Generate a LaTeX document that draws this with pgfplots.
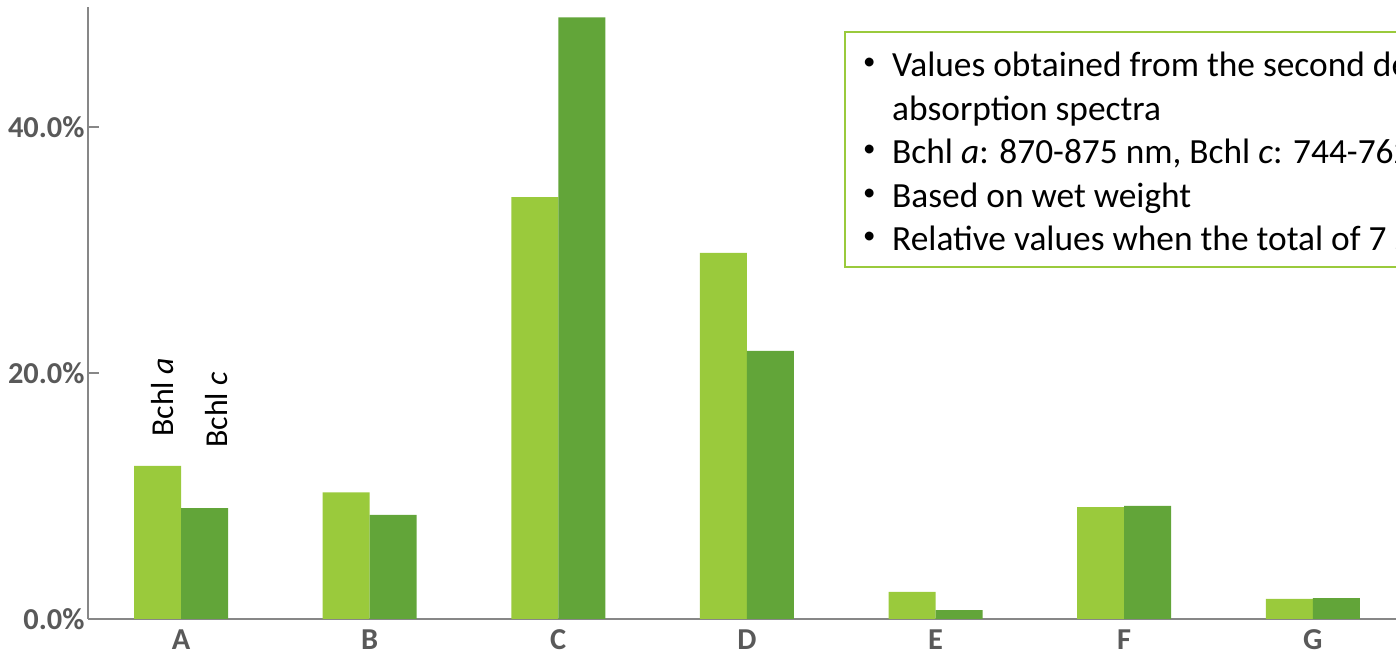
\documentclass[border=0pt]{standalone}
\usepackage{fontspec}
\setmainfont{Carlito}
\usepackage{pgfplots}
\pgfplotsset{compat=1.18}
\definecolor{lgreen}{HTML}{9ACA3C}
\definecolor{dgreen}{HTML}{62A539}
\definecolor{axgray}{HTML}{878787}
\definecolor{lblgray}{HTML}{595959}
\begin{document}
\begin{tikzpicture}[x=1bp,y=1bp]
\useasboundingbox (0,0) rectangle (1396,655);
\begin{axis}[
  at={(88bp,36bp)}, anchor=south west,
  scale only axis,
  width=1338bp, height=612bp,
  xmin=-0.493, xmax=6.6,
  ymin=0, ymax=49.75,
  axis x line=bottom, axis y line=left,
  axis line style={-, draw=axgray, line width=1.2bp},
  ybar=0pt, bar width=47bp,
  xtick={0,1,2,3,4,5,6},
  xticklabels={A,B,C,D,E,F,G},
  xtick style={draw=none},
  ytick={0,20,40},
  yticklabels={0.0\%,20.0\%,40.0\%},
  ytick style={draw=axgray, line width=1.2bp},
  major tick length=11bp,
  tick align=inside,
  ticklabel style={font=\fontsize{30.5}{30.5}\selectfont\bfseries, text=lblgray},
  xticklabel style={yshift=-7bp},
  yticklabel style={xshift=0bp},
  clip=false,
]
\addplot[fill=lgreen, draw=none] coordinates {(0,12.44) (1,10.3) (2,34.3) (3,29.76) (4,2.2) (5,9.1) (6,1.63)};
\addplot[fill=dgreen, draw=none] coordinates {(0,9.02) (1,8.46) (2,48.9) (3,21.8) (4,0.73) (5,9.19) (6,1.70)};
\end{axis}
% text box
\draw[lgreen, line width=1.2bp] (845,623) rectangle (1500,388);
\begin{scope}[every node/.style={inner sep=0pt, font=\fontsize{35.5}{35.5}\selectfont}]
\node[anchor=base west] at (892,578) {Values obtained from the second derivative of};
\node[anchor=base west] at (892,534.5) {absorption spectra};
\node[anchor=base west] at (892,491) {Bchl \textit{a}: 870-875 nm, Bchl \textit{c}: 744-762 nm};
\node[anchor=base west] at (892,447.5) {Based on wet weight};
\node[anchor=base west] at (892,404) {Relative values when the total of 7 samples is 100\%};
\foreach \yy in {578,491,447.5,404}{\node[anchor=base west, font=\fontsize{25}{25}\selectfont] at (863,\yy+7) {•};}
\node[anchor=base west, rotate=90, font=\fontsize{32}{32}\selectfont] at (173,218) {Bchl \textit{a}};
\node[anchor=base west, rotate=90, font=\fontsize{32}{32}\selectfont] at (227,207) {Bchl \textit{c}};
\end{scope}
\end{tikzpicture}
\end{document}
